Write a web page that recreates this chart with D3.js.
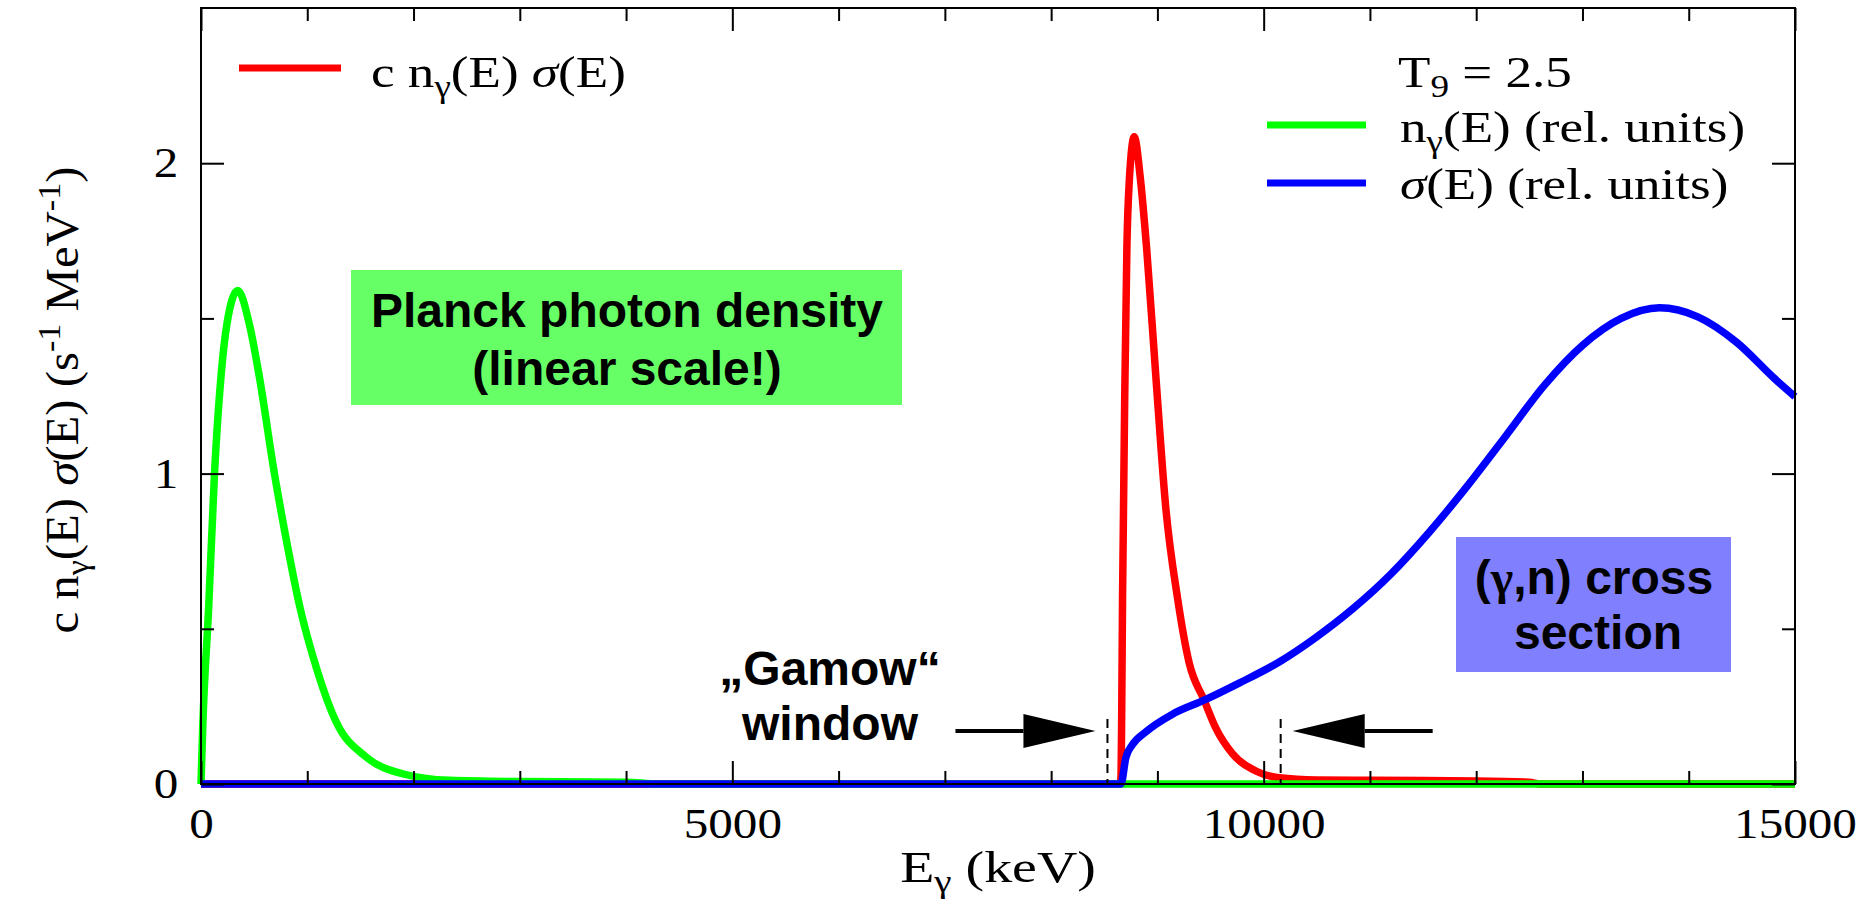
<!DOCTYPE html>
<html>
<head>
<meta charset="utf-8">
<script src="https://cdnjs.cloudflare.com/ajax/libs/d3/7.8.5/d3.min.js"></script>
<style>
body { margin: 0; background: #fff; }
svg { display: block; }
.serif { font-family: "Liberation Serif", "Times New Roman", serif; fill: #000; }
.note { font-family: "Liberation Sans", Arial, sans-serif; font-weight: bold; fill: #000; }
</style>
</head>
<body>
<svg width="1871" height="900"></svg>
<script>
// photon density n_gamma(E), rel. units
var greenE = [0, 17, 73, 127, 190, 243, 346, 456, 545, 691, 801, 927, 1099, 1272, 1554, 1896, 2338, 3000, 4000, 4300, 15000];
var greenV = [0, 0.19, 0.575, 1.0, 1.32, 1.48, 1.59, 1.48, 1.32, 1.0, 0.79, 0.575, 0.36, 0.2, 0.087, 0.033, 0.012, 0.008, 0.006, 0, 0];

// c n(E) sigma(E)
var redE = [0, 8650, 8657, 8663, 8672, 8695, 8713, 8735, 8782, 8840, 8900, 8986, 9080, 9189, 9299, 9440, 9550, 9706, 9926, 10146, 10500, 11000, 12000, 12500, 12600, 15000];
var redV = [0, 0, 0.02, 0.18, 0.6, 1.31, 1.73, 1.94, 2.085, 1.95, 1.72, 1.31, 0.886, 0.6, 0.39, 0.27, 0.18, 0.098, 0.042, 0.02, 0.013, 0.012, 0.01, 0.006, 0, 0];

// (gamma,n) cross section, rel. units
var blueE = [0, 8657, 8703, 8766, 8891, 9142, 9440, 9769, 10146, 10491, 10837, 11199, 11560, 11921, 12282, 12643, 13003, 13364, 13725, 14086, 14447, 14808, 15000];
var blueV = [0, 0, 0.085, 0.127, 0.168, 0.225, 0.27, 0.325, 0.393, 0.472, 0.564, 0.677, 0.812, 0.962, 1.123, 1.285, 1.414, 1.5, 1.534, 1.505, 1.424, 1.306, 1.248];

var xMajor = [0, 5000, 10000, 15000];
var xMinor = [1000, 2000, 3000, 4000, 6000, 7000, 8000, 9000, 11000, 12000, 13000, 14000];
var yMajor = [0, 1, 2];
var yMinor = [0.5, 1.5];
var gamowWindow = [8530, 10160];

var svg = d3.select("svg");

var x = d3.scaleLinear().domain([0, 15000]).range([201, 1795]);
var y = d3.scaleLinear().domain([0, 2.5]).range([784, 8]);

var line = d3.line()
   .x(function(d) { return x(d[0]); })
   .y(function(d) { return y(d[1]); })
   .curve(d3.curveMonotoneX);

function pairs(a, b) { return a.map(function(v, i) { return [v, b[i]]; }); }

// curves
[[redE, redV, "#ff0000"], [greenE, greenV, "#00ff00"], [blueE, blueV, "#0000ff"]].forEach(function(s) {
  svg.append("path")
     .datum(pairs(s[0], s[1]))
     .attr("d", line)
     .attr("fill", "none")
     .attr("stroke", s[2])
     .attr("stroke-width", 7.5)
     .attr("stroke-linejoin", "round");
});

// frame
svg.append("rect")
   .attr("x", x(0)).attr("y", y(2.5))
   .attr("width", x(15000) - x(0)).attr("height", y(0) - y(2.5))
   .attr("fill", "none").attr("stroke", "#000").attr("stroke-width", 2);

function clean(g) {
  g.select(".domain").remove();
  g.selectAll("line").attr("stroke-width", 2);
}

// bottom axis
svg.append("g").attr("transform", "translate(0," + y(0) + ")")
   .call(d3.axisBottom(x).tickValues(xMinor).tickSize(-13).tickFormat(""))
   .call(clean);
var bx = svg.append("g").attr("transform", "translate(0," + y(0) + ")")
   .call(d3.axisBottom(x).tickValues(xMajor).tickSize(-23).tickPadding(24).tickFormat(d3.format("d")))
   .call(clean);
bx.selectAll("text").attr("class", "serif").attr("font-size", 42)
   .attr("transform", "scale(1.17,1)");

// top axis
svg.append("g").attr("transform", "translate(0," + y(2.5) + ")")
   .call(d3.axisTop(x).tickValues(xMinor).tickSize(-13).tickFormat(""))
   .call(clean);
svg.append("g").attr("transform", "translate(0," + y(2.5) + ")")
   .call(d3.axisTop(x).tickValues(xMajor).tickSize(-23).tickFormat(""))
   .call(clean);

// left axis
svg.append("g").attr("transform", "translate(" + x(0) + ",0)")
   .call(d3.axisLeft(y).tickValues(yMinor).tickSize(-13).tickFormat(""))
   .call(clean);
var ly = svg.append("g").attr("transform", "translate(" + x(0) + ",0)")
   .call(d3.axisLeft(y).tickValues(yMajor).tickSize(-23).tickFormat(d3.format("d")))
   .call(clean);
ly.selectAll("text").attr("class", "serif").attr("font-size", 42)
   .attr("text-anchor", "middle").attr("x", 0)
   .attr("transform", "translate(-35,0) scale(1.17,1)");

// right axis
svg.append("g").attr("transform", "translate(" + x(15000) + ",0)")
   .call(d3.axisRight(y).tickValues(yMinor).tickSize(-13).tickFormat(""))
   .call(clean);
svg.append("g").attr("transform", "translate(" + x(15000) + ",0)")
   .call(d3.axisRight(y).tickValues(yMajor).tickSize(-23).tickFormat(""))
   .call(clean);

// text with sub/superscripts
function rich(t, parts, size) {
  t.attr("font-size", size);
  var shift = 0;
  parts.forEach(function(p) {
    if (typeof p === "string") p = { t: p };
    var target = p.sub ? size * 0.22 : (p.sup ? -size * 0.4 : 0);
    var ts = t.append("tspan").text(p.t);
    if (target !== shift) { ts.attr("dy", target - shift); shift = target; }
    if (p.sub || p.sup) ts.attr("font-size", size * 0.7);
    if (p.it) ts.attr("font-style", "italic");
  });
  return t;
}

// axis titles
rich(svg.append("text").attr("class", "serif").attr("text-anchor", "middle")
   .attr("transform", "translate(998,882) scale(1.27,1)"),
   ["E", { t: "\u03b3", sub: 1 }, " (keV)"], 44);

rich(svg.append("text").attr("class", "serif").attr("text-anchor", "middle")
   .attr("transform", "translate(78,400) rotate(-90) scale(1.06,1)"),
   ["c n", { t: "\u03b3", sub: 1 }, "(E) ", { t: "\u03c3", it: 1 }, "(E) (s", { t: "-1", sup: 1 }, " MeV", { t: "-1", sup: 1 }, ")"], 46);

// legend
var legend = [
  { x1: 239, x2: 341, y: 68, c: "#ff0000", tx: 371, ty: 87, parts: ["c n", { t: "\u03b3", sub: 1 }, "(E) ", { t: "\u03c3", it: 1 }, "(E)"] },
  { tx: 1398, ty: 87, parts: ["T", { t: "9", sub: 1 }, " = 2.5"] },
  { x1: 1267, x2: 1366, y: 125, c: "#00ff00", tx: 1400, ty: 142, parts: ["n", { t: "\u03b3", sub: 1 }, "(E) (rel. units)"] },
  { x1: 1267, x2: 1366, y: 183, c: "#0000ff", tx: 1400, ty: 199, parts: [{ t: "\u03c3", it: 1 }, "(E) (rel. units)"] }
];
legend.forEach(function(l) {
  if (l.c) {
    svg.append("line").attr("x1", l.x1).attr("x2", l.x2).attr("y1", l.y).attr("y2", l.y)
       .attr("stroke", l.c).attr("stroke-width", 7);
  }
  rich(svg.append("text").attr("class", "serif")
     .attr("transform", "translate(" + l.tx + "," + l.ty + ") scale(1.18,1)"), l.parts, 45);
});

// annotation boxes
svg.append("rect").attr("x", 351).attr("y", 270).attr("width", 551).attr("height", 135).attr("fill", "#66ff66");
svg.append("text").attr("class", "note").attr("font-size", 48).attr("text-anchor", "middle")
   .attr("x", 627).attr("y", 327).text("Planck photon density");
svg.append("text").attr("class", "note").attr("font-size", 48).attr("text-anchor", "middle")
   .attr("x", 627).attr("y", 385).text("(linear scale!)");

svg.append("rect").attr("x", 1456).attr("y", 537).attr("width", 275).attr("height", 135).attr("fill", "#8080ff");
var cs = svg.append("text").attr("class", "note").attr("font-size", 48).attr("text-anchor", "middle")
   .attr("x", 1594).attr("y", 594);
cs.append("tspan").text("(");
cs.append("tspan").attr("font-family", "'Liberation Serif', serif").text("\u03b3");
cs.append("tspan").text(",n) cross");
svg.append("text").attr("class", "note").attr("font-size", 48).attr("text-anchor", "middle")
   .attr("x", 1598).attr("y", 649).text("section");

svg.append("text").attr("class", "note").attr("font-size", 48).attr("text-anchor", "middle")
   .attr("x", 830).attr("y", 685).text("\u201eGamow\u201c");
svg.append("text").attr("class", "note").attr("font-size", 48).attr("text-anchor", "middle")
   .attr("x", 830).attr("y", 740).text("window");

// Gamow window markers
gamowWindow.forEach(function(e, i) {
  var gx = x(e);
  svg.append("line").attr("x1", gx).attr("x2", gx).attr("y1", 719).attr("y2", y(0))
     .attr("stroke", "#000").attr("stroke-width", 2).attr("stroke-dasharray", "9,6");
  var dir = i === 0 ? -1 : 1;          // arrow comes from the outside
  var tip = gx + dir * 12, base = tip + dir * 72, tail = base + dir * 68, ay = 731;
  svg.append("line").attr("x1", base).attr("x2", tail).attr("y1", ay).attr("y2", ay)
     .attr("stroke", "#000").attr("stroke-width", 4);
  svg.append("path")
     .attr("d", "M" + tip + "," + ay + "L" + base + "," + (ay - 17) + "L" + base + "," + (ay + 17) + "Z")
     .attr("fill", "#000");
});
</script>
</body>
</html>
